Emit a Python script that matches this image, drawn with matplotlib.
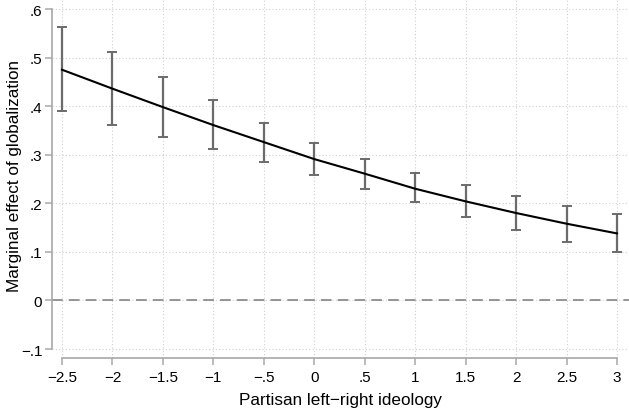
import matplotlib
matplotlib.use("Agg")
import matplotlib.pyplot as plt

# ideology values and estimated marginal effects
ideology = [-2.5, -2, -1.5, -1, -0.5, 0, 0.5, 1, 1.5, 2, 2.5, 3]
effect = [0.475, 0.436, 0.398, 0.361, 0.326, 0.291, 0.261, 0.230, 0.204, 0.180, 0.158, 0.138]
ci_upper = [0.562, 0.512, 0.461, 0.412, 0.366, 0.325, 0.291, 0.262, 0.237, 0.215, 0.195, 0.177]
ci_lower = [0.389, 0.362, 0.337, 0.311, 0.285, 0.259, 0.230, 0.202, 0.172, 0.145, 0.121, 0.099]

xticks = [-2.5, -2, -1.5, -1, -0.5, 0, 0.5, 1, 1.5, 2, 2.5, 3]
xticklabels = ["\u22122.5", "\u22122", "\u22121.5", "\u22121", "\u2212.5", "0", ".5", "1", "1.5", "2", "2.5", "3"]
yticks = [-0.1, 0, 0.1, 0.2, 0.3, 0.4, 0.5, 0.6]
yticklabels = ["\u2212.1", "0", ".1", ".2", ".3", ".4", ".5", ".6"]

plt.rcParams['font.family'] = ['Liberation Sans', 'DejaVu Sans']

fig = plt.figure(figsize=(6.29, 4.14), dpi=100)
ax = fig.add_axes([52 / 629, 55 / 414, 577 / 629, 359 / 414])

lower_err = [e - l for e, l in zip(effect, ci_lower)]
upper_err = [u - e for e, u in zip(effect, ci_upper)]
ax.errorbar(ideology, effect, yerr=[lower_err, upper_err], fmt='none',
            ecolor='#6b6b6b', elinewidth=1.6, capsize=3.5, capthick=1.4, zorder=3)
ax.plot(ideology, effect, color='black', lw=1.5, zorder=4)
ax.axhline(0, color='#7a7a7a', lw=1.1, dashes=(7, 4), zorder=2)

ax.set_xlim(-2.599, 3.119)
ax.set_ylim(-0.1185, 0.6206)
ax.set_xticks(xticks)
ax.set_xticklabels(xticklabels)
ax.set_yticks(yticks)
ax.set_yticklabels(yticklabels)
ax.grid(True, color='#d0d0d0', lw=0.8, ls=(0, (1, 2)), zorder=0)

for side in ['top', 'right']:
    ax.spines[side].set_visible(False)
ax.spines['left'].set_bounds(-0.1, 0.6)
ax.spines['bottom'].set_bounds(-2.5, 3)
for side in ['left', 'bottom']:
    ax.spines[side].set_color('#a8a8a8')
    ax.spines[side].set_linewidth(1.2)
ax.tick_params(colors='black', labelsize=11, length=5, width=1.1, color='#a8a8a8')
ax.tick_params(axis='y', pad=2)

ax.set_xlabel('Partisan left\u2212right ideology', fontsize=12.3, labelpad=6)
ax.set_ylabel('Marginal effect of globalization', fontsize=12.3)
ax.yaxis.set_label_coords(-0.052, 0.51)

fig.savefig('out.png', dpi=100)
